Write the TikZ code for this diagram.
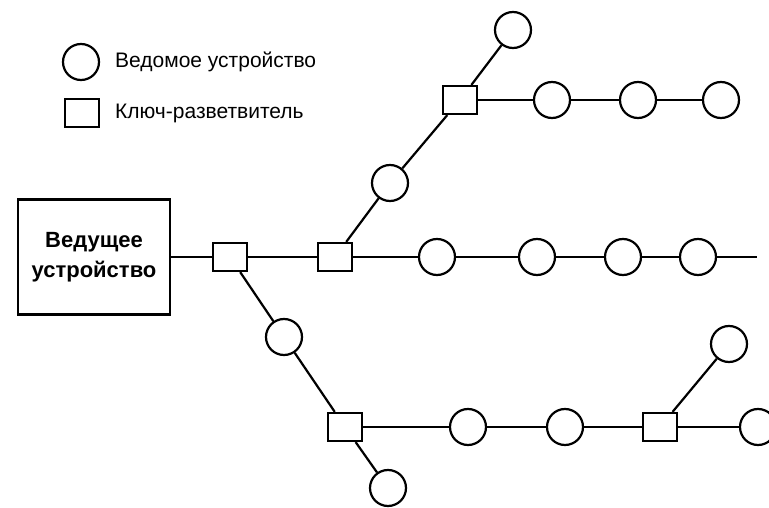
\documentclass[tikz,border=0pt]{standalone}
\usepackage{fontspec}
\setmainfont{Liberation Sans}
\begin{document}
\begin{tikzpicture}[x=1pt,y=-1pt,
  dev/.style={circle,draw,line width=2.2pt,minimum size=36pt,inner sep=0pt,fill=white},
  sw/.style={rectangle,draw,line width=2.2pt,minimum width=34pt,minimum height=28pt,inner sep=0pt,fill=white},
  link/.style={line width=2.2pt},
  lbl/.style={anchor=west,inner sep=0pt,font=\fontsize{21}{24}\selectfont}]
\useasboundingbox (0,0) rectangle (769,508);

% legend
\node[dev] (lc) at (81,62) {};
\node[lbl] (lct) at (115,62) {Ведомое устройство};
\node[sw] (ls) at (82,113) {};
\node[lbl] (lst) at (115,113) {Ключ-разветвитель};

% master
\node[draw,line width=2.4pt,minimum width=152pt,minimum height=115pt,inner sep=0pt,
      align=center,font=\bfseries\fontsize{22}{30}\selectfont] (m) at (94,257)
      {Ведущее\\устройство};

% main line
\node[sw] (s1) at (230,257) {};
\node[sw] (s2) at (335,257) {};
\node[dev] (a1) at (437,257) {};
\node[dev] (a2) at (537,257) {};
\node[dev] (a3) at (623,257) {};
\node[dev] (a4) at (698,257) {};
\coordinate (aend) at (757,257);

% upper branch
\node[dev] (b1) at (390,183) {};
\node[sw] (s3) at (460,100) {};
\node[dev] (b2) at (513,30) {};
\node[dev] (b3) at (552,100) {};
\node[dev] (b4) at (638,100) {};
\node[dev] (b5) at (721,100) {};

% lower branch
\node[dev] (c1) at (284,337) {};
\node[sw] (s4) at (345,427) {};
\node[dev] (c2) at (388,488) {};
\node[dev] (c3) at (468,427) {};
\node[dev] (c4) at (565,427) {};
\node[sw] (s5) at (660,427) {};
\node[dev] (c5) at (758,427) {};
\node[dev] (c6) at (729,344) {};

\draw[link] (m) -- (s1) -- (s2) -- (a1) -- (a2) -- (a3) -- (a4) -- (aend);
\draw[link] (s2) -- (b1) -- (s3) -- (b2);
\draw[link] (s3) -- (b3) -- (b4) -- (b5);
\draw[link] (s1) -- (c1) -- (s4) -- (c2);
\draw[link] (s4) -- (c3) -- (c4) -- (s5) -- (c5);
\draw[link] (s5) -- (c6);
\end{tikzpicture}
\end{document}
